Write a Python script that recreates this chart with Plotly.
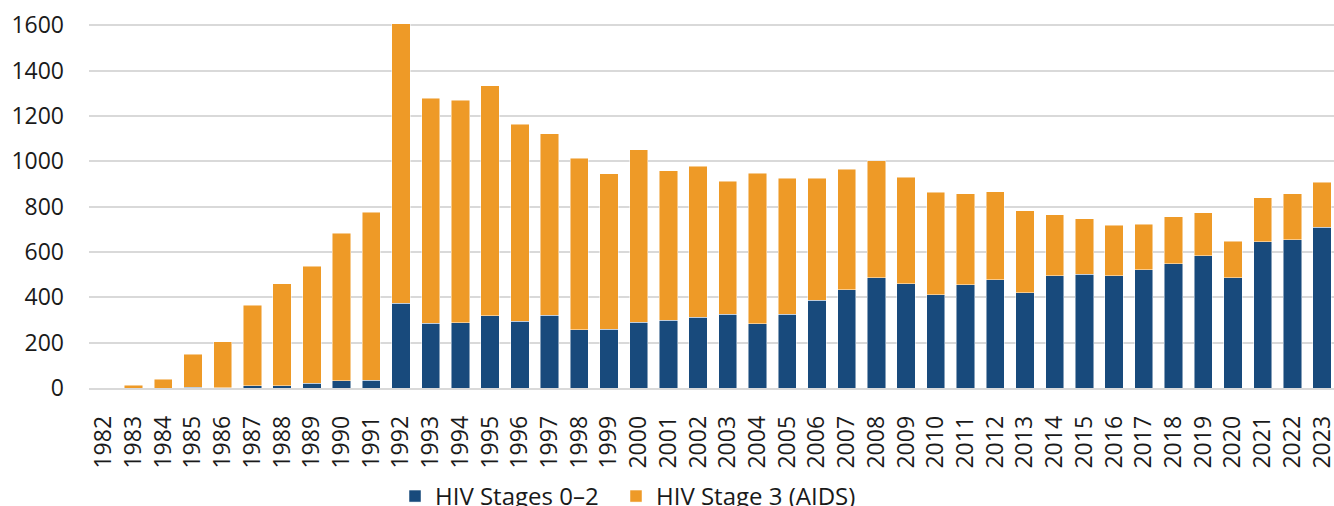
import plotly.graph_objects as go

years = [str(y) for y in range(1982, 2024)]

totals = [2, 12, 38, 148, 204, 366, 460, 538, 682, 775,
          1607, 1278, 1269, 1334, 1163, 1122, 1013, 946, 1051, 959,
          978, 912, 947, 925, 925, 965, 1003, 929, 863, 858,
          866, 781, 764, 747, 718, 722, 756, 773, 648, 839,
          858, 908]

stages_0_2 = [0, 0, 0, 4, 2, 9, 9, 21, 32, 35,
              374, 285, 288, 319, 294, 322, 256, 259, 291, 299,
              313, 326, 284, 326, 388, 433, 486, 461, 411, 455,
              477, 421, 495, 501, 495, 521, 548, 583, 486, 645,
              654, 709]

stage_3 = [t - s for t, s in zip(totals, stages_0_2)]

BLUE = "#184A7C"
ORANGE = "#EE9A27"
FONT = "Open Sans"

fig = go.Figure()
fig.add_trace(go.Bar(
    x=years, y=stages_0_2, name="HIV Stages 0–2", legend="legend", showlegend=True,
    marker=dict(color=BLUE, line=dict(color="rgba(255,255,255,0.6)", width=0.8)),
))
fig.add_trace(go.Bar(
    x=years, y=stage_3, name="HIV Stage 3 (AIDS)", legend="legend2", showlegend=True,
    marker=dict(color=ORANGE, line=dict(color="rgba(255,255,255,0.6)", width=0.8)),
))

legend_common = dict(
    orientation="h", xanchor="left", y=-0.29, yanchor="middle",
    font=dict(family=FONT, size=24, color="#1a1a1a"),
    itemclick=False, itemdoubleclick=False, bgcolor="rgba(0,0,0,0)",
)

fig.update_layout(
    showlegend=True,
    barmode="stack",
    bargap=0.384,
    width=1334, height=506,
    margin=dict(l=89, r=0, t=14, b=118, autoexpand=False),
    paper_bgcolor="white", plot_bgcolor="white",
    font=dict(family=FONT, size=22, color="#1a1a1a"),
    legend=dict(x=0.2458, **legend_common),
    legend2=dict(x=0.4233, **legend_common),
    xaxis=dict(
        type="category", range=[-0.5, 41.4], tickangle=-90,
        showgrid=False, showline=True, linecolor="#d9d9d9", linewidth=1.5,
        ticks="", tickfont=dict(family=FONT, size=23, color="#1a1a1a"),
        ticklabelstandoff=17,
    ),
    yaxis=dict(
        range=[0, 1650], tickvals=[0, 200, 400, 600, 800, 1000, 1200, 1400, 1600],
        showgrid=True, gridcolor="#d9d9d9", gridwidth=1.5, zeroline=False,
        ticks="", tickfont=dict(family=FONT, size=23, color="#1a1a1a"),
        ticklabelstandoff=24,
    ),
)

fig.write_html(
    "out.html",
    config={"displayModeBar": False},
    post_script="document.body.style.margin='0';document.body.style.overflow='hidden';",
)
